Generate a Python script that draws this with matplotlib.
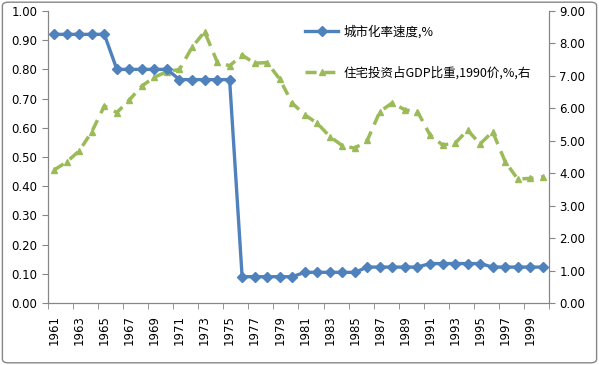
import numpy as np
import matplotlib.pyplot as plt
from matplotlib.patches import FancyBboxPatch

plt.rcParams['font.family'] = ['Noto Sans CJK SC', 'DejaVu Sans']

years = list(range(1961, 2001))

# 城市化率速度,% (left axis)
urban_speed = [0.92] * 5 + [0.80] * 5 + [0.765] * 5 + [0.09] * 5 + \
    [0.105] * 5 + [0.123] * 5 + [0.135] * 5 + [0.123] * 5

# 住宅投资占GDP比重,1990价,%  (right axis)
housing_share = [4.10, 4.35, 4.69, 5.28, 6.07, 5.87, 6.26, 6.69, 6.96, 7.13,
                 7.20, 7.88, 8.36, 7.44, 7.31, 7.64, 7.39, 7.41, 6.90, 6.16,
                 5.80, 5.54, 5.13, 4.85, 4.77, 5.02, 5.90, 6.17, 5.95, 5.90,
                 5.18, 4.87, 4.92, 5.33, 4.90, 5.28, 4.36, 3.82, 3.84, 3.89]

label_urban = '城市化率速度,%'
label_housing = '住宅投资占GDP比重,1990价,%,右'

blue = '#4F81BD'
green = '#9BBB59'
axis_grey = '#868686'

fig = plt.figure(figsize=(5.99, 3.65), dpi=100)
fig.patches.append(FancyBboxPatch((0.004, 0.006), 0.992, 0.988, boxstyle='round,pad=0,rounding_size=0.01',
                                  transform=fig.transFigure, fill=False, edgecolor=axis_grey, linewidth=1))

ax = fig.add_axes([0.0801, 0.1699, 0.8364, 0.80])
ax2 = ax.twinx()

l1, = ax.plot(years, urban_speed, color=blue, lw=2.4, marker='D', markersize=5.5, label=label_urban, zorder=3)
l2, = ax2.plot(years, housing_share, color=green, lw=2.5, ls=(0, (3.2, 2.2)), marker='^', markersize=5,
               label=label_housing)
ax.set_zorder(ax2.get_zorder() + 1)
ax.patch.set_visible(False)

ax.set_xlim(1960.5, 2000.5)
ax.set_ylim(0, 1.0)
ax2.set_ylim(0, 9.0)

ax.set_yticks(np.arange(0, 1.01, 0.1))
ax.set_yticklabels([f'{v:.2f}' for v in np.arange(0, 1.01, 0.1)])
ax2.set_yticks(np.arange(0, 9.01, 1))
ax2.set_yticklabels([f'{v:.2f}' for v in np.arange(0, 9.01, 1)])

ax.set_xticks(years[::2])
ax.set_xticklabels([str(y) for y in years[::2]], rotation=90)
ax.set_xticks(np.arange(1960.5, 2001, 2), minor=True)
ax.tick_params(axis='x', which='major', length=0, pad=9)
ax.tick_params(axis='x', which='minor', length=4, color=axis_grey, direction='out')

for a in (ax, ax2):
    a.tick_params(axis='y', length=4, color=axis_grey, labelsize=8.5, labelfontfamily='DejaVu Sans')
    a.tick_params(axis='x', labelsize=8.5, labelfontfamily='DejaVu Sans')
    for s in a.spines.values():
        s.set_color(axis_grey)
    a.spines['top'].set_visible(False)

ax.legend([l1, l2], [label_urban, label_housing], loc='upper left', bbox_to_anchor=(0.49, 0.99),
          frameon=False, fontsize=9, labelspacing=2.2, handlelength=2.7, handletextpad=0.4)

fig.savefig('out.png', dpi=100)
